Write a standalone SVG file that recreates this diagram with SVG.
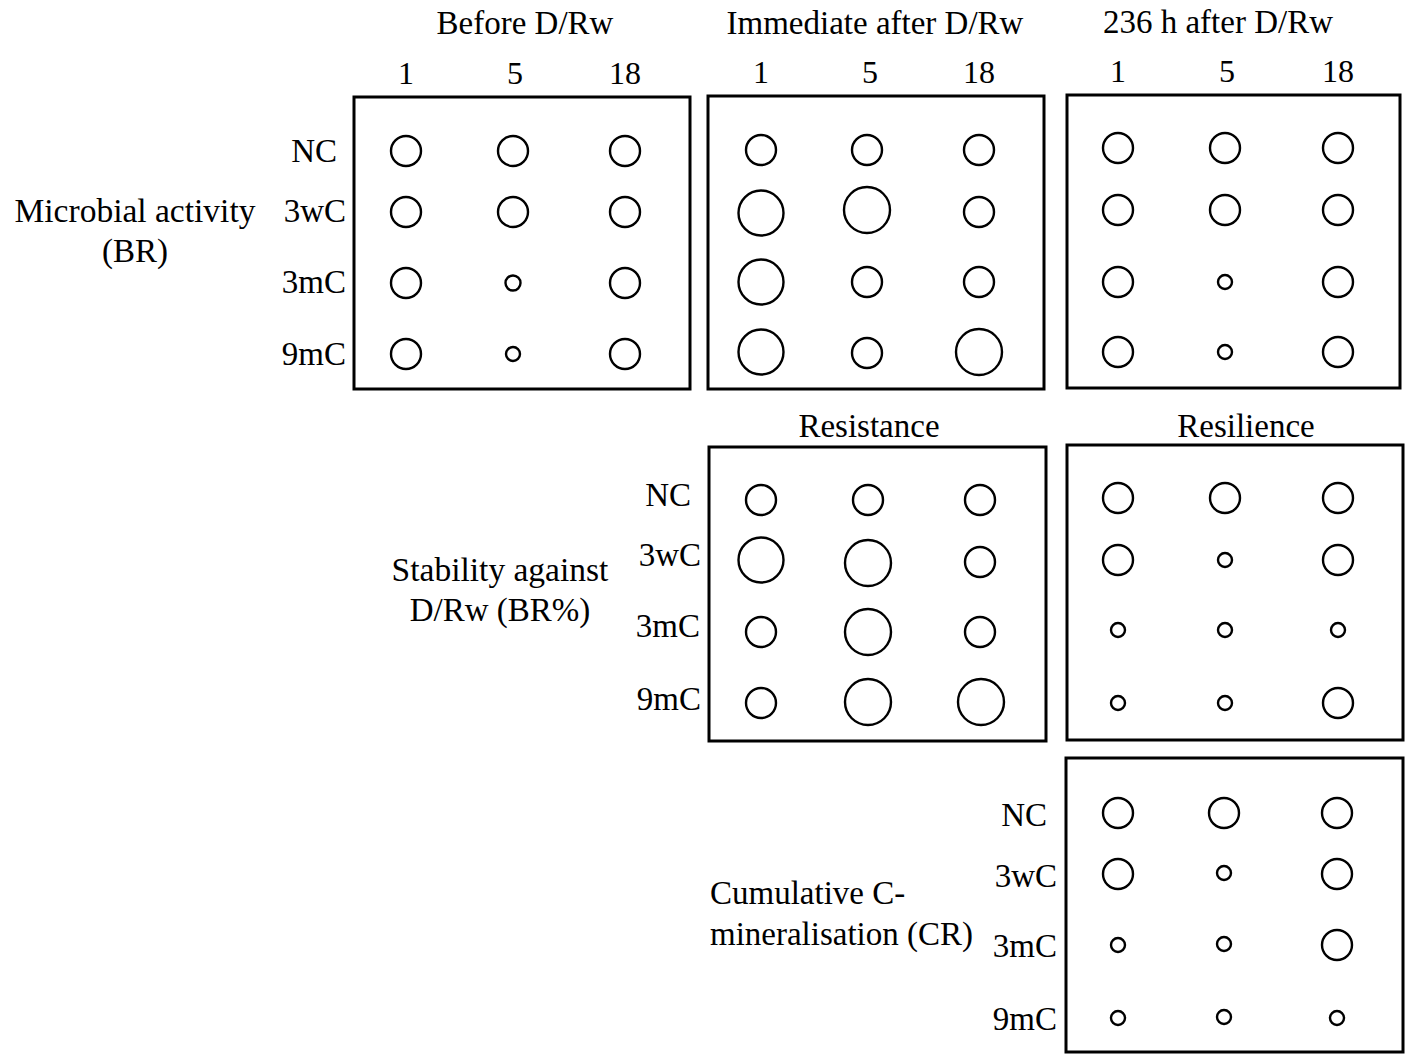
<svg xmlns="http://www.w3.org/2000/svg" width="1409" height="1056" viewBox="0 0 1409 1056">
<style>
text{font-family:"Liberation Serif","Times New Roman",serif;fill:#000;font-size:33px}
.t{text-anchor:middle}
.r{text-anchor:end}
.n{text-anchor:middle;font-size:32px}
.box{fill:none;stroke:#000;stroke-width:3}
circle{fill:none;stroke:#000;stroke-width:2.4}
</style>
<rect width="1409" height="1056" fill="#fff"/>
<g id="left-labels">
<text class="t" x="135" y="222" style="font-size:33.5px">Microbial activity</text>
<text class="t" x="135" y="262">(BR)</text>
<text class="t" x="500" y="581" style="font-size:33.5px">Stability against</text>
<text class="t" x="500" y="621">D/Rw (BR%)</text>
<text x="710" y="904">Cumulative C-</text>
<text x="710" y="945">mineralisation (CR)</text>
</g>
<g id="panel-before">
<text class="t" x="525" y="34">Before D/Rw</text>
<text class="n" x="406" y="84">1</text>
<text class="n" x="515" y="84">5</text>
<text class="n" x="625" y="84">18</text>
<rect class="box" x="354" y="97" width="336" height="292"/>
<text class="r" x="337" y="162">NC</text>
<text class="r" x="346" y="222">3wC</text>
<text class="r" x="346" y="293">3mC</text>
<text class="r" x="346" y="365">9mC</text>
<circle cx="406" cy="151" r="15"/><circle cx="513" cy="151" r="15"/><circle cx="625" cy="151" r="15"/>
<circle cx="406" cy="212" r="15"/><circle cx="513" cy="212" r="15"/><circle cx="625" cy="212" r="15"/>
<circle cx="406" cy="283" r="15"/><circle cx="513" cy="283" r="7.5"/><circle cx="625" cy="283" r="15"/>
<circle cx="406" cy="354" r="15"/><circle cx="513" cy="354" r="7"/><circle cx="625" cy="354" r="15"/>
</g>
<g id="panel-immediate">
<text class="t" x="875" y="34">Immediate after D/Rw</text>
<text class="n" x="761" y="83">1</text>
<text class="n" x="870" y="83">5</text>
<text class="n" x="979" y="83">18</text>
<rect class="box" x="708" y="96" width="336" height="293"/>
<circle cx="761" cy="150" r="15"/><circle cx="867" cy="150" r="15"/><circle cx="979" cy="150" r="15"/>
<circle cx="761" cy="213" r="22.5"/><circle cx="867" cy="210" r="23"/><circle cx="979" cy="212" r="15"/>
<circle cx="761" cy="282" r="22.5"/><circle cx="867" cy="282" r="15"/><circle cx="979" cy="282" r="15"/>
<circle cx="761" cy="352" r="22.5"/><circle cx="867" cy="353" r="15"/><circle cx="979" cy="352" r="23"/>
</g>
<g id="panel-236h">
<text class="t" x="1218" y="33">236 h after D/Rw</text>
<text class="n" x="1118" y="82">1</text>
<text class="n" x="1227" y="82">5</text>
<text class="n" x="1338" y="82">18</text>
<rect class="box" x="1067" y="95" width="333" height="293"/>
<circle cx="1118" cy="148" r="15"/><circle cx="1225" cy="148" r="15"/><circle cx="1338" cy="148" r="15"/>
<circle cx="1118" cy="210" r="15"/><circle cx="1225" cy="210" r="15"/><circle cx="1338" cy="210" r="15"/>
<circle cx="1118" cy="282" r="15"/><circle cx="1225" cy="282" r="7"/><circle cx="1338" cy="282" r="15"/>
<circle cx="1118" cy="352" r="15"/><circle cx="1225" cy="352" r="7"/><circle cx="1338" cy="352" r="15"/>
</g>
<g id="panel-resistance">
<text class="t" x="869" y="437">Resistance</text>
<rect class="box" x="709" y="447" width="337" height="294"/>
<text class="r" x="691" y="506">NC</text>
<text class="r" x="701" y="566">3wC</text>
<text class="r" x="700" y="637">3mC</text>
<text class="r" x="701" y="710">9mC</text>
<circle cx="761" cy="500" r="15"/><circle cx="868" cy="500" r="15"/><circle cx="980" cy="500" r="15"/>
<circle cx="761" cy="560" r="22.5"/><circle cx="868" cy="563" r="23"/><circle cx="980" cy="562" r="15"/>
<circle cx="761" cy="632" r="15"/><circle cx="868" cy="632" r="23"/><circle cx="980" cy="632" r="15"/>
<circle cx="761" cy="703" r="15"/><circle cx="868" cy="702" r="23"/><circle cx="981" cy="702" r="23"/>
</g>
<g id="panel-resilience">
<text class="t" x="1246" y="437">Resilience</text>
<rect class="box" x="1067" y="445" width="336" height="295"/>
<circle cx="1118" cy="498" r="15"/><circle cx="1225" cy="498" r="15"/><circle cx="1338" cy="498" r="15"/>
<circle cx="1118" cy="560" r="15"/><circle cx="1225" cy="560" r="7"/><circle cx="1338" cy="560" r="15"/>
<circle cx="1118" cy="630" r="7"/><circle cx="1225" cy="630" r="7"/><circle cx="1338" cy="630" r="7"/>
<circle cx="1118" cy="703" r="7"/><circle cx="1225" cy="703" r="7"/><circle cx="1338" cy="703" r="15"/>
</g>
<g id="panel-cumulative">
<rect class="box" x="1066" y="758" width="337" height="294"/>
<text class="r" x="1047" y="826">NC</text>
<text class="r" x="1057" y="887">3wC</text>
<text class="r" x="1057" y="957">3mC</text>
<text class="r" x="1057" y="1030">9mC</text>
<circle cx="1118" cy="813" r="15"/><circle cx="1224" cy="813" r="15"/><circle cx="1337" cy="813" r="15"/>
<circle cx="1118" cy="874" r="15"/><circle cx="1224" cy="873" r="7"/><circle cx="1337" cy="874" r="15"/>
<circle cx="1118" cy="945" r="7"/><circle cx="1224" cy="944" r="7"/><circle cx="1337" cy="945" r="15"/>
<circle cx="1118" cy="1018" r="7"/><circle cx="1224" cy="1017" r="7"/><circle cx="1337" cy="1018" r="7"/>
</g>
<g id="connectors"/>
</svg>
